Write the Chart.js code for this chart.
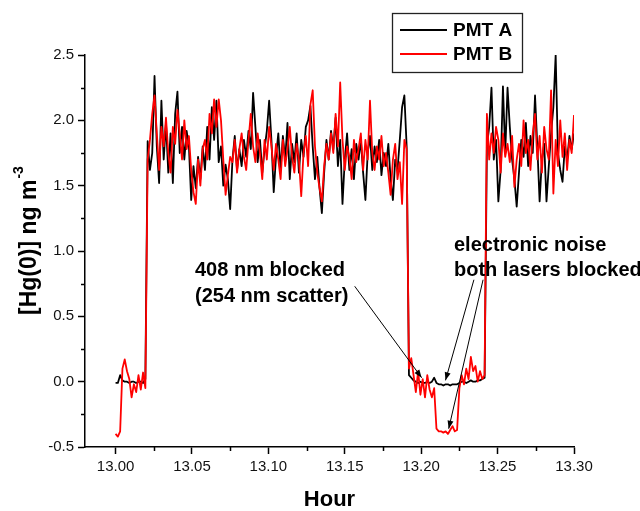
<!DOCTYPE html>
<html>
<head>
<meta charset="utf-8">
<script src="https://cdn.jsdelivr.net/npm/chart.js@4.4.1/dist/chart.umd.min.js"></script>
<style>
  html, body { margin: 0; padding: 0; background: #fff; }
</style>
</head>
<body>
<canvas id="c" width="640" height="511"></canvas>
<script>
// sampling of the record: one reading every 0.0015 h starting at 13.000 h
const T0 = 13.0;
const DT = 0.0015;

const pmtA = [
  -0.01, -0.01, 0.05, 0.01, 0.00, 0.00, -0.01, 0.00, 0.00, -0.01,
  0.00, 0.00, -0.01, 0.02, 1.84, 1.62, 1.75, 2.34, 1.80, 1.52,
  2.15, 1.70, 1.98, 1.60, 1.90, 1.52, 2.05, 2.22, 1.75, 1.95,
  1.70, 1.92, 1.80, 1.39, 1.65, 1.48, 1.72, 1.55, 1.80, 1.62,
  1.95, 1.70, 2.10, 1.85, 2.15, 1.68, 1.80, 1.50, 1.66, 1.55,
  1.32, 1.70, 1.88, 1.62, 1.78, 1.65, 1.85, 1.72, 1.92, 1.78,
  2.21, 1.95, 1.68, 1.85, 1.60, 1.78, 1.92, 2.15, 1.85, 1.45,
  1.72, 1.90, 1.62, 1.88, 1.70, 1.98, 1.55, 1.82, 1.68, 1.90,
  1.60, 1.85, 1.72, 1.95, 2.00, 2.11, 1.80, 1.55, 1.72, 1.48,
  1.29, 1.60, 1.85, 1.70, 1.92, 1.78, 2.02, 1.65, 1.85, 1.36,
  1.70, 1.90, 1.62, 1.78, 1.55, 1.82, 1.70, 1.85, 1.60, 1.39,
  1.75, 1.88, 1.62, 1.80, 1.68, 1.85, 1.58, 1.75, 1.65, 1.82,
  1.55, 1.39, 1.70, 1.62, 1.85, 2.10, 2.19, 1.80, 0.05, 0.03,
  0.01, 0.00, -0.01, 0.00, -0.01, -0.01, 0.00, -0.01, 0.00, 0.03,
  -0.01, -0.02, -0.02, -0.03, -0.02, -0.02, -0.03, -0.02, -0.02, -0.02,
  -0.01, 0.00, 0.00, -0.01, 0.00, 0.01, 0.00, 0.00, 0.01, 0.01,
  0.02, 0.03, 1.80, 1.95, 2.25, 1.70, 1.85, 1.38, 1.62, 2.26,
  1.75, 2.25, 1.95, 1.70, 1.55, 1.34, 1.60, 1.85, 1.72, 1.98,
  1.65, 1.88, 1.75, 2.19, 1.80, 1.38, 1.70, 1.82, 1.38, 1.65,
  1.90, 2.10, 2.50, 1.75, 1.62, 1.53, 1.80, 1.70, 1.88, 1.78,
  1.90
];

const pmtB = [
  -0.40, -0.42, -0.38, 0.10, 0.17, 0.08, 0.02, -0.12, -0.02, -0.08,
  0.05, -0.06, 0.07, -0.05, 1.70, 1.85, 2.05, 2.19, 1.90, 1.62,
  1.95, 1.80, 2.02, 1.75, 1.60, 1.95, 1.82, 2.08, 1.90, 1.70,
  2.00, 1.78, 1.88, 1.62, 1.45, 1.36, 1.70, 1.50, 1.78, 1.85,
  1.70, 2.05, 1.90, 2.16, 1.95, 2.16, 2.00, 1.70, 1.43, 1.58,
  1.72, 1.68, 1.85, 1.60, 1.78, 1.90, 1.72, 1.62, 1.85, 2.05,
  1.80, 1.68, 1.90, 1.75, 1.55, 1.85, 1.70, 1.95, 1.80, 1.62,
  1.82, 1.70, 1.55, 1.85, 1.65, 1.78, 1.95, 1.72, 1.60, 1.82,
  1.70, 1.42, 1.75, 1.88, 1.65, 2.12, 2.23, 1.80, 1.60, 1.48,
  1.38, 1.65, 1.82, 1.70, 1.90, 1.75, 2.05, 1.80, 2.29, 1.85,
  1.62, 1.80, 1.72, 1.55, 1.85, 1.68, 1.78, 1.90, 1.62, 1.85,
  1.70, 2.15, 1.75, 1.62, 1.80, 1.70, 1.88, 1.65, 1.75, 1.60,
  1.43, 1.70, 1.82, 1.55, 1.68, 1.36, 1.85, 1.78, 0.10, 0.18,
  0.05, -0.08, 0.08, -0.10, 0.02, -0.12, 0.05, -0.06, -0.12, -0.05,
  -0.36, -0.38, -0.38, -0.39, -0.38, -0.40, -0.37, -0.34, -0.38, -0.37,
  -0.05, 0.05, -0.02, 0.10, 0.02, 0.19, 0.08, 0.12, 0.00, 0.08,
  0.02, 0.05, 2.05, 1.70, 1.90, 1.75, 1.95, 1.85, 1.60, 1.90,
  1.72, 1.82, 1.68, 1.88, 1.49, 1.70, 1.82, 1.65, 2.00, 1.75,
  1.85, 1.62, 1.90, 2.05, 1.70, 1.88, 1.60, 1.95, 1.78, 1.70,
  2.23, 1.44, 1.85, 1.65, 2.00, 1.72, 1.90, 1.62, 1.85, 1.75,
  2.04
];

const xTicks = [13.00, 13.05, 13.10, 13.15, 13.20, 13.25, 13.30];
const xMinor = [13.025, 13.075, 13.125, 13.175, 13.225, 13.275];
const yTicks = [-0.5, 0.0, 0.5, 1.0, 1.5, 2.0, 2.5];
const yMinor = [-0.25, 0.25, 0.75, 1.25, 1.75, 2.25];

const seriesNames = ['PMT A', 'PMT B'];
const seriesColors = ['#000000', '#ff0000'];

// annotation arrows, in data units [hour, value]
const arrows = [
  { from: [13.1565, 0.73], to: [13.2003, 0.03] },
  { from: [13.2345, 0.78], to: [13.2159, 0.01] },
  { from: [13.2405, 0.78], to: [13.2180, -0.36] }
];

const FONT = '"Liberation Sans", Arial, sans-serif';

function toPoints(values) {
  return values.map((v, i) => ({ x: T0 + i * DT, y: v }));
}

const extras = {
  id: 'extras',
  afterDraw(chart) {
    const { ctx, chartArea: area } = chart;
    const xs = chart.scales.x, ys = chart.scales.y;
    ctx.save();

    // minor ticks
    ctx.strokeStyle = '#000';
    ctx.lineWidth = 1.5;
    ctx.beginPath();
    xMinor.forEach(v => {
      const px = Math.round(xs.getPixelForValue(v)) + 0.5;
      ctx.moveTo(px, area.bottom);
      ctx.lineTo(px, area.bottom + 4);
    });
    yMinor.forEach(v => {
      const py = Math.round(ys.getPixelForValue(v)) + 0.5;
      ctx.moveTo(area.left, py);
      ctx.lineTo(area.left - 4, py);
    });
    ctx.stroke();

    // legend
    ctx.lineWidth = 1.3;
    ctx.strokeStyle = '#222';
    ctx.strokeRect(392.5, 13.5, 130, 59);
    ctx.font = 'bold 19px ' + FONT;
    ctx.textBaseline = 'middle';
    ctx.textAlign = 'left';
    seriesNames.forEach((name, i) => {
      const yy = 30 + i * 24;
      ctx.strokeStyle = seriesColors[i];
      ctx.lineWidth = 1.8;
      ctx.beginPath();
      ctx.moveTo(400, yy);
      ctx.lineTo(447, yy);
      ctx.stroke();
      ctx.fillStyle = '#000';
      ctx.fillText(name, 453, yy + 1);
    });

    // arrows
    ctx.strokeStyle = '#000';
    ctx.fillStyle = '#000';
    ctx.lineWidth = 1;
    arrows.forEach(a => {
      const x1 = xs.getPixelForValue(a.from[0]), y1 = ys.getPixelForValue(a.from[1]);
      const x2 = xs.getPixelForValue(a.to[0]), y2 = ys.getPixelForValue(a.to[1]);
      const ang = Math.atan2(y2 - y1, x2 - x1);
      ctx.beginPath();
      ctx.moveTo(x1, y1);
      ctx.lineTo(x2, y2);
      ctx.stroke();
      ctx.beginPath();
      ctx.moveTo(x2, y2);
      ctx.lineTo(x2 - 8 * Math.cos(ang) + 3 * Math.sin(ang), y2 - 8 * Math.sin(ang) - 3 * Math.cos(ang));
      ctx.lineTo(x2 - 8 * Math.cos(ang) - 3 * Math.sin(ang), y2 - 8 * Math.sin(ang) + 3 * Math.cos(ang));
      ctx.closePath();
      ctx.fill();
    });

    // annotation text
    ctx.font = 'bold 20px ' + FONT;
    ctx.textBaseline = 'middle';
    ctx.fillText('408 nm blocked', 195, 270);
    ctx.fillText('(254 nm scatter)', 195, 296);
    ctx.fillText('electronic noise', 454, 245);
    ctx.fillText('both lasers blocked', 454, 270);

    // axis titles
    ctx.textBaseline = 'alphabetic';
    ctx.font = 'bold 22px ' + FONT;
    ctx.textAlign = 'center';
    ctx.fillText('Hour', (area.left + area.right) / 2, 506);

    ctx.save();
    ctx.translate(36, 315);
    ctx.rotate(-Math.PI / 2);
    ctx.textAlign = 'left';
    ctx.font = 'bold 23px ' + FONT;
    const main = '[Hg(0)] ng m';
    ctx.fillText(main, 0, 0);
    const w = ctx.measureText(main).width;
    ctx.font = 'bold 14px ' + FONT;
    ctx.fillText('-3', w + 1, -13);
    ctx.restore();

    ctx.restore();
  }
};

new Chart(document.getElementById('c'), {
  type: 'line',
  data: {
    datasets: [
      {
        label: seriesNames[0],
        data: toPoints(pmtA),
        borderColor: seriesColors[0],
        borderWidth: 1.8,
        pointRadius: 0,
        tension: 0,
        borderJoinStyle: 'round',
        order: 1
      },
      {
        label: seriesNames[1],
        data: toPoints(pmtB),
        borderColor: seriesColors[1],
        borderWidth: 1.8,
        pointRadius: 0,
        tension: 0,
        borderJoinStyle: 'round',
        order: 0
      }
    ]
  },
  options: {
    responsive: false,
    animation: false,
    events: [],
    layout: { padding: { left: 0, top: 55, right: 66, bottom: 0 } },
    plugins: {
      legend: { display: false },
      tooltip: { enabled: false }
    },
    scales: {
      x: {
        type: 'linear',
        min: 12.98,
        max: 13.30,
        afterBuildTicks: s => { s.ticks = xTicks.map(v => ({ value: v })); },
        afterFit: s => { s.height = 64; },
        ticks: {
          callback: v => v.toFixed(2),
          color: '#111',
          font: { family: FONT, size: 15 },
          padding: 4,
          maxRotation: 0,
          autoSkip: false
        },
        grid: {
          drawOnChartArea: false,
          drawTicks: true,
          tickLength: 7,
          tickColor: '#000',
          tickWidth: 1.5
        },
        border: { display: true, color: '#000', width: 1.5 }
      },
      y: {
        type: 'linear',
        min: -0.5,
        max: 2.5,
        afterBuildTicks: s => { s.ticks = yTicks.map(v => ({ value: v })); },
        afterFit: s => { s.width = 85; },
        ticks: {
          callback: v => v.toFixed(1),
          color: '#111',
          font: { family: FONT, size: 15 },
          padding: 4,
          autoSkip: false
        },
        grid: {
          drawOnChartArea: false,
          drawTicks: true,
          tickLength: 7,
          tickColor: '#000',
          tickWidth: 1.5
        },
        border: { display: true, color: '#000', width: 1.5 }
      }
    }
  },
  plugins: [extras]
});
</script>
</body>
</html>
